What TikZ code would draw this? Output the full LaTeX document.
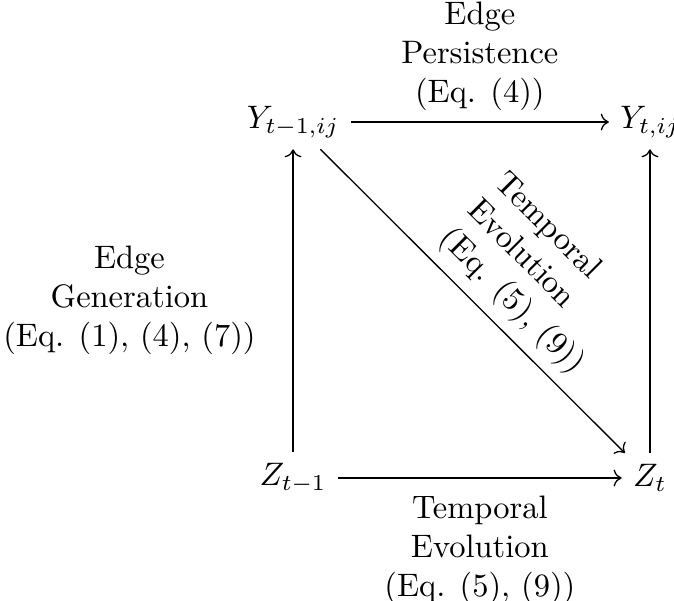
\documentclass[tikz,border=0pt]{standalone}
\usepackage{amsmath}
\usepackage{tikz}
\usetikzlibrary{arrows.meta,positioning}

\begin{document}
\begin{tikzpicture}[x=1cm,y=1cm,>=To,
  lbl/.style={align=center}]
\useasboundingbox (0,0) rectangle (7.29,6.49);
% the four states
\node (yprev) at (3.17,5.17) {$Y_{t-1,ij}$};
\node (ycur) at (7.03,5.17) {$Y_{t,ij}$};
\node (zprev) at (3.17,1.32) {$Z_{t-1}$};
\node (zcur) at (7.03,1.32) {$Z_t$};
% transitions
\draw[->] (yprev) -- node[above,lbl] {Edge\\Persistence\\(Eq. (4))} (ycur);
\draw[->] (zprev) -- node[below=2pt,lbl] {Temporal\\Evolution\\(Eq. (5), (9))} (zcur);
\draw[->] (zprev) -- node[left=8pt,lbl] {Edge\\Generation\\(Eq. (1), (4), (7))} (yprev);
\draw[->] (zcur) -- (ycur);
\draw[->] (yprev) -- node[pos=0.565,sloped,above,align=left] {Temporal\\Evolution\\(Eq. (5), (9))} (zcur);
\end{tikzpicture}
\end{document}
